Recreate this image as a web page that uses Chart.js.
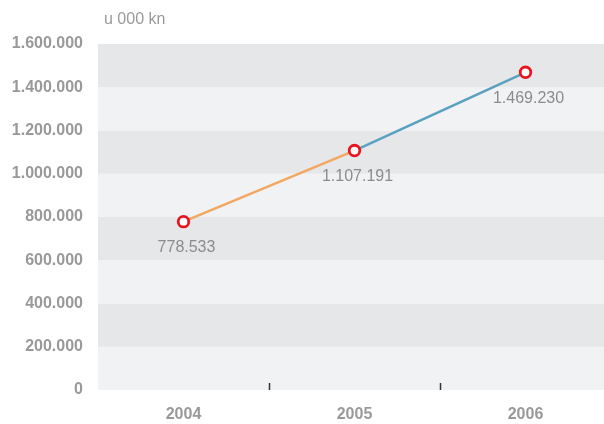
<!DOCTYPE html>
<html><head><meta charset="utf-8">
<script src="https://cdn.jsdelivr.net/npm/chart.js@4/dist/chart.umd.min.js"></script>
<style>
html,body{margin:0;padding:0;background:#fff;overflow:hidden;width:604px;height:424px}
#wrap{width:604px;height:424px;position:relative}
</style>
</head><body><div id="wrap"><canvas id="c" width="604" height="424"></canvas></div>
<script>
const categories = ['2004', '2005', '2006'];
const values = [778533, 1107191, 1469230];
const valueLabels = ['778.533', '1.107.191', '1.469.230'];
const yTicks = [0, 200000, 400000, 600000, 800000, 1000000, 1200000, 1400000, 1600000];
const unitLabel = 'u 000 kn';
const segmentColors = ['#f2a762', '#5aa0c0'];

const FONT = '"Liberation Sans", Arial, Helvetica, sans-serif';
const fmt = v => String(v).replace(/\B(?=(\d{3})+(?!\d))/g, '.');

// category slots: first slot starts at -0.5; the plot is cut by the window before the last slot ends
const X_MIN = -0.5, X_MAX = 2.459;

const bandsPlugin = {
  id: 'bands',
  beforeDraw(chart) {
    const {ctx, chartArea, scales: {y}} = chart;
    ctx.save();
    for (let i = 0; i < yTicks.length - 1; i++) {
      const top = y.getPixelForValue(yTicks[i + 1]);
      const bot = y.getPixelForValue(yTicks[i]);
      ctx.fillStyle = i % 2 === 0 ? '#f1f2f3' : '#e6e7e8';
      ctx.fillRect(chartArea.left, top, chartArea.right - chartArea.left, bot - top);
    }
    ctx.restore();
  }
};

const extrasPlugin = {
  id: 'extras',
  afterDatasetsDraw(chart) {
    const {ctx, chartArea, scales: {x}} = chart;
    ctx.save();
    ctx.strokeStyle = '#333';
    ctx.lineWidth = 1.5;
    for (let i = 0; i < categories.length - 1; i++) {
      const px = Math.round(x.getPixelForValue(i + 0.5)) + 0.5;
      ctx.beginPath();
      ctx.moveTo(px, chartArea.bottom - 7);
      ctx.lineTo(px, chartArea.bottom);
      ctx.stroke();
    }
    const meta = chart.getDatasetMeta(0);
    ctx.fillStyle = '#8c8c8c';
    ctx.font = '16px ' + FONT;
    ctx.textAlign = 'center';
    ctx.textBaseline = 'middle';
    meta.data.forEach((pt, i) => {
      ctx.fillText(valueLabels[i], pt.x + 3, pt.y + 26);
    });
    ctx.fillStyle = '#999';
    ctx.font = '16px ' + FONT;
    ctx.textAlign = 'left';
    ctx.fillText(unitLabel, 104, 20);
    ctx.restore();
  }
};

new Chart(document.getElementById('c'), {
  type: 'line',
  data: {
    datasets: [{
      data: categories.map((c, i) => ({ x: i, y: values[i] })),
      borderWidth: 2.5,
      borderColor: segmentColors[0],
      segment: { borderColor: c => segmentColors[c.p0DataIndex] },
      pointRadius: 5.3,
      pointBorderWidth: 2.8,
      pointBackgroundColor: '#fff',
      pointBorderColor: '#e8141e',
      tension: 0
    }]
  },
  options: {
    responsive: false,
    animation: false,
    layout: { autoPadding: false, padding: { top: 44, right: 0, left: 0, bottom: 0 } },
    plugins: { legend: { display: false }, tooltip: { enabled: false } },
    scales: {
      x: {
        type: 'linear',
        min: X_MIN, max: X_MAX,
        grid: { display: false, drawTicks: false },
        border: { display: false },
        afterBuildTicks(s) { s.ticks = categories.map((c, i) => ({ value: i })); },
        ticks: { padding: 15, color: '#999', maxRotation: 0, autoSkip: false,
                 font: { family: FONT, size: 16, weight: 'bold' },
                 callback: v => categories[v] },
        afterFit(s) { s.height = 34; s.paddingLeft = 0; s.paddingRight = 0; }
      },
      y: {
        min: 0, max: 1600000,
        grid: { display: false, drawTicks: false },
        border: { display: false },
        afterBuildTicks(s) { s.ticks = yTicks.map(v => ({ value: v })); },
        ticks: { padding: 15, color: '#999', font: { family: FONT, size: 16, weight: 'bold' }, callback: v => fmt(v) },
        afterFit(s) { s.width = 98; s.paddingTop = 0; s.paddingBottom = 0; }
      }
    }
  },
  plugins: [bandsPlugin, extrasPlugin]
});
</script>
</body></html>
